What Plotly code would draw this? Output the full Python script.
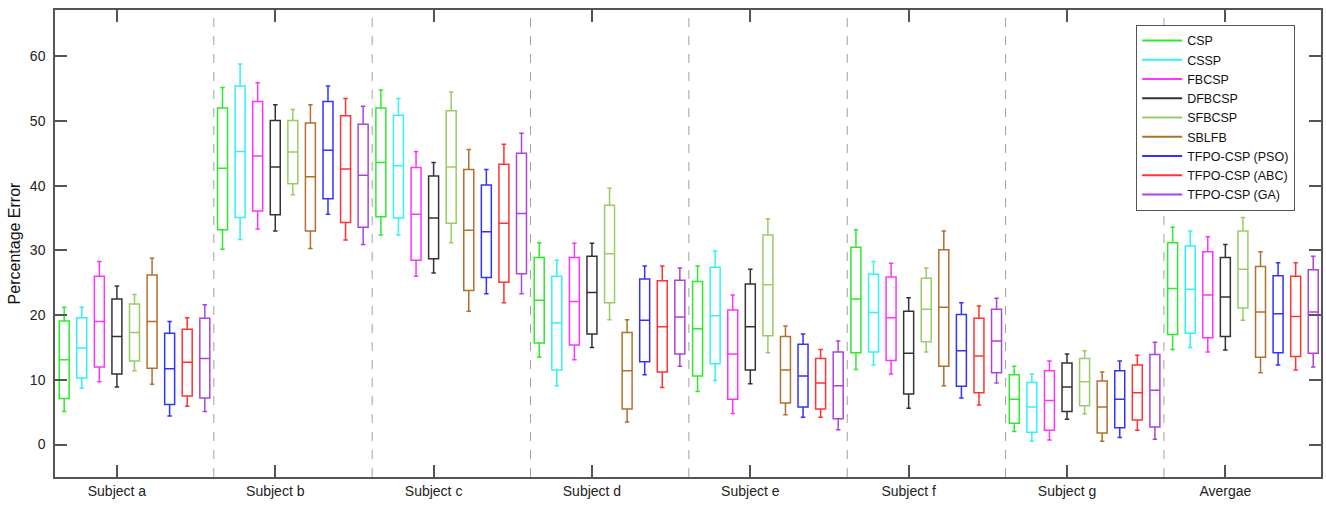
import plotly.graph_objects as go

subjects = ["Subject a", "Subject b", "Subject c", "Subject d", "Subject e",
            "Subject f", "Subject g", "Avergae"]
methods = ["CSP", "CSSP", "FBCSP", "DFBCSP", "SFBCSP", "SBLFB",
           "TFPO-CSP (PSO)", "TFPO-CSP (ABC)", "TFPO-CSP (GA)"]
colors = ["#2eea2e", "#33f2f2", "#ff33ff", "#333333", "#99cc66",
          "#b0702e", "#3333ff", "#ff3333", "#aa44dd"]

# per method: lists over subjects (a..g, average)
upper = {
    "CSP":            [21.2, 55.2, 54.8, 31.2, 27.6, 33.2, 12.1, 33.6],
    "CSSP":           [21.2, 58.8, 53.5, 28.5, 29.9, 28.3, 10.9, 33.0],
    "FBCSP":          [28.3, 55.9, 45.3, 31.1, 23.1, 28.0, 12.9, 32.1],
    "DFBCSP":         [24.5, 52.5, 43.6, 31.1, 27.1, 22.7, 14.0, 30.9],
    "SFBCSP":         [23.2, 51.8, 54.5, 39.6, 34.9, 27.3, 14.5, 35.1],
    "SBLFB":          [28.8, 52.5, 45.6, 19.3, 18.3, 33.0, 11.2, 29.8],
    "TFPO-CSP (PSO)": [19.0, 55.4, 42.5, 27.6, 17.1, 21.9, 12.9, 28.1],
    "TFPO-CSP (ABC)": [19.6, 53.5, 46.4, 27.6, 14.7, 21.4, 13.8, 28.1],
    "TFPO-CSP (GA)":  [21.6, 52.3, 48.1, 27.3, 16.0, 22.6, 15.8, 29.1],
}
q3 = {
    "CSP":            [19.1, 52.0, 52.0, 28.9, 25.2, 30.5, 10.8, 31.2],
    "CSSP":           [19.6, 55.4, 50.9, 26.0, 27.4, 26.3, 9.6, 30.7],
    "FBCSP":          [26.0, 53.0, 42.8, 28.9, 20.8, 25.9, 11.4, 29.8],
    "DFBCSP":         [22.5, 50.1, 41.5, 29.1, 24.8, 20.6, 12.6, 28.9],
    "SFBCSP":         [21.7, 50.1, 51.6, 37.0, 32.4, 25.7, 13.3, 33.0],
    "SBLFB":          [26.2, 49.7, 42.5, 17.3, 16.7, 30.1, 9.8, 27.5],
    "TFPO-CSP (PSO)": [17.2, 53.0, 40.1, 25.6, 15.5, 20.1, 11.4, 26.1],
    "TFPO-CSP (ABC)": [17.8, 50.8, 43.3, 25.3, 13.3, 19.5, 12.3, 26.0],
    "TFPO-CSP (GA)":  [19.5, 49.5, 45.0, 25.4, 14.3, 20.9, 13.9, 27.0],
}
median = {
    "CSP":            [13.1, 42.7, 43.6, 22.3, 17.9, 22.5, 7.0, 24.1],
    "CSSP":           [14.9, 45.3, 43.1, 18.8, 19.9, 20.4, 5.8, 24.0],
    "FBCSP":          [19.0, 44.6, 35.6, 22.1, 14.0, 19.6, 6.8, 23.1],
    "DFBCSP":         [16.7, 42.9, 35.0, 23.5, 18.2, 14.1, 8.9, 22.8],
    "SFBCSP":         [17.3, 45.2, 42.9, 29.5, 24.7, 20.9, 9.7, 27.1],
    "SBLFB":          [19.0, 41.4, 33.1, 11.4, 11.5, 21.2, 5.8, 20.5],
    "TFPO-CSP (PSO)": [11.7, 45.5, 32.9, 19.2, 10.6, 14.5, 7.0, 20.2],
    "TFPO-CSP (ABC)": [12.7, 42.6, 34.2, 18.2, 9.5, 13.7, 8.0, 19.8],
    "TFPO-CSP (GA)":  [13.3, 41.6, 35.7, 19.7, 9.1, 16.0, 8.4, 20.5],
}
q1 = {
    "CSP":            [7.1, 33.2, 35.2, 15.7, 10.6, 14.2, 3.3, 17.0],
    "CSSP":           [10.3, 35.1, 35.0, 11.5, 12.5, 14.3, 1.9, 17.2],
    "FBCSP":          [12.0, 36.1, 28.5, 15.4, 7.0, 13.0, 2.2, 16.5],
    "DFBCSP":         [10.9, 35.5, 28.7, 17.1, 11.5, 7.8, 5.1, 16.7],
    "SFBCSP":         [12.9, 40.3, 34.2, 21.9, 16.8, 15.9, 6.0, 21.1],
    "SBLFB":          [11.8, 33.0, 23.8, 5.5, 6.4, 12.1, 1.8, 13.5],
    "TFPO-CSP (PSO)": [6.2, 38.0, 25.8, 12.8, 5.8, 9.0, 2.6, 14.2],
    "TFPO-CSP (ABC)": [7.5, 34.3, 25.1, 11.2, 5.5, 8.0, 3.8, 13.6],
    "TFPO-CSP (GA)":  [7.2, 33.6, 26.4, 14.0, 4.0, 11.1, 2.7, 14.1],
}
lower = {
    "CSP":            [5.1, 30.2, 32.4, 13.5, 8.2, 11.6, 2.0, 14.7],
    "CSSP":           [8.7, 31.7, 32.4, 9.1, 9.9, 12.3, 0.5, 15.0],
    "FBCSP":          [9.7, 33.3, 26.0, 13.1, 4.8, 10.9, 0.7, 14.3],
    "DFBCSP":         [8.9, 33.0, 26.5, 15.0, 9.4, 5.6, 3.9, 14.6],
    "SFBCSP":         [11.4, 38.6, 31.2, 19.3, 14.2, 14.3, 4.7, 19.2],
    "SBLFB":          [9.3, 30.3, 20.6, 3.5, 4.6, 9.1, 0.5, 11.1],
    "TFPO-CSP (PSO)": [4.4, 35.6, 23.3, 10.8, 4.2, 7.2, 1.1, 12.3],
    "TFPO-CSP (ABC)": [5.9, 31.6, 21.9, 8.8, 4.2, 6.1, 2.2, 11.5],
    "TFPO-CSP (GA)":  [5.1, 30.9, 23.3, 12.1, 2.3, 9.5, 0.8, 12.0],
}

FONT = "Liberation Sans, Arial, Helvetica, sans-serif"
step = 0.111      # spacing between boxes inside a group (category units)
bw = 0.063        # box width (category units)

fig = go.Figure()
for j, m in enumerate(methods):
    xs = [i + (j - 3) * step for i in range(len(subjects))]
    fig.add_trace(go.Box(
        x=xs, q1=q1[m], median=median[m], q3=q3[m],
        lowerfence=lower[m], upperfence=upper[m],
        width=bw, whiskerwidth=0.45, boxpoints=False,
        line=dict(color=colors[j], width=1.5),
        fillcolor="rgba(0,0,0,0)", name=m, showlegend=False,
        hoverinfo="skip",
    ))
    fig.add_trace(go.Scatter(
        x=[None], y=[None], mode="lines", name=m,
        line=dict(color=colors[j], width=2), showlegend=True,
    ))

# dashed separators between subjects
for i in range(len(subjects) - 1):
    fig.add_shape(type="line", xref="x", yref="paper",
                  x0=i + 0.612, x1=i + 0.612, y0=0, y1=1,
                  line=dict(color="#a0a0a0", width=1, dash="dash"),
                  layer="below")

axis_common = dict(
    showline=True, linecolor="#555555", linewidth=1.5, mirror="ticks",
    ticks="inside", ticklen=12, tickcolor="#555555", tickwidth=1.5,
    showgrid=False, zeroline=False,
    tickfont=dict(family=FONT, size=14, color="#222222"),
)

fig.update_layout(
    width=1326, height=505,
    margin=dict(l=55, r=3, t=10, b=28),
    paper_bgcolor="white", plot_bgcolor="white",
    font=dict(family=FONT, size=14, color="#222222"),
    xaxis=dict(range=[-0.391, 7.604], tickmode="array",
               tickvals=list(range(len(subjects))), ticktext=subjects,
               **axis_common),
    yaxis=dict(range=[-5.02, 67.16], tickmode="array",
               tickvals=[0, 10, 20, 30, 40, 50, 60],
               ticklabelstandoff=5,
               title=dict(text="Percentage Error", standoff=5,
                          font=dict(family=FONT, size=16, color="#111111")),
               **axis_common),
    legend=dict(x=0.854, y=0.968, xanchor="left", yanchor="top",
                bgcolor="white", bordercolor="#555555", borderwidth=1,
                font=dict(family=FONT, size=12.5, color="#111111"),
                itemwidth=40, tracegroupgap=0),
    boxmode="overlay",
    showlegend=True,
)

fig.write_html("out.html",
               config={"displayModeBar": False},
               post_script="document.body.style.margin='0';"
                           "document.body.style.overflow='hidden';")
